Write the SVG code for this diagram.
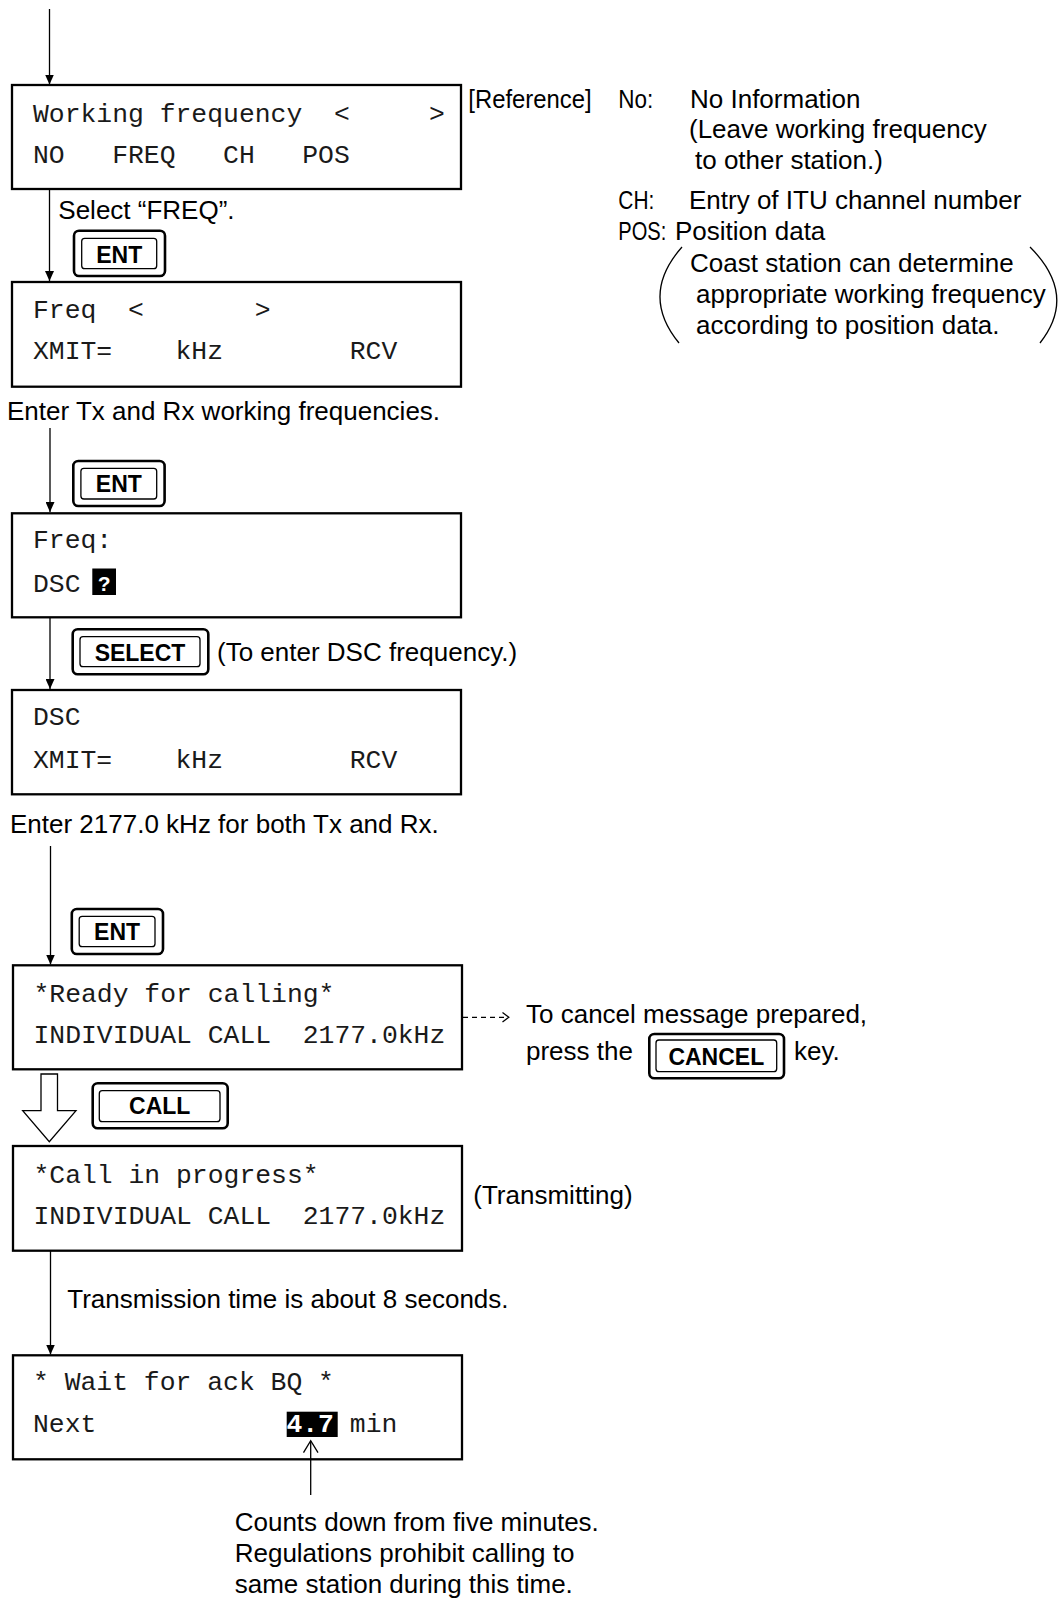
<svg xmlns="http://www.w3.org/2000/svg" width="1064" height="1598" viewBox="0 0 1064 1598">
  <style>
    .screen { fill: none; stroke: #000; stroke-width: 2.3; }
    .mono { font-family: "Liberation Mono", "Courier New", monospace; font-size: 26.4px; fill: #1a1a1a; white-space: pre; }
    .sans { font-family: "Liberation Sans", Arial, sans-serif; font-size: 26px; fill: #000; white-space: pre; }
    .key-outer { fill: #fff; stroke: #000; stroke-width: 2.6; }
    .key-inner { fill: none; stroke: #000; stroke-width: 1.3; }
    .key-label { font-family: "Liberation Sans", Arial, sans-serif; font-weight: bold; font-size: 23px; fill: #000; text-anchor: middle; }
    .flow { fill: none; stroke: #000; stroke-width: 1.3; }
    .thin { fill: none; stroke: #000; stroke-width: 1.3; }
  </style>
  <defs>
    <marker id="arrow" markerWidth="10" markerHeight="9" refX="10" refY="4.5" orient="auto" markerUnits="userSpaceOnUse">
      <path d="M0,0 L10,4.5 L0,9 z" fill="#000"/>
    </marker>
  </defs>

  <rect width="1064" height="1598" fill="#fff"/>

  <!-- screen: working frequency -->
  <g id="screen-working-frequency">
    <rect class="screen" x="12" y="85" width="449" height="104"/>
    <text class="mono" x="33" y="121.7">Working frequency  &lt;     &gt;</text>
    <text class="mono" x="33" y="163.3">NO   FREQ   CH   POS</text>
  </g>

  <g id="note-select-freq">
    <text class="sans" x="58.3" y="219">Select “FREQ”.</text>
  </g>

  <g id="key-ent-1">
    <rect class="key-outer" x="74" y="230.7" width="91" height="45.3" rx="5"/>
    <rect class="key-inner" x="81.7" y="238.3" width="75" height="30.4" rx="3"/>
    <text class="key-label" x="119.2" y="262.5">ENT</text>
  </g>

  <!-- screen: frequency entry -->
  <g id="screen-freq">
    <rect class="screen" x="12" y="282" width="449" height="104.7"/>
    <text class="mono" x="33" y="318">Freq  &lt;       &gt;</text>
    <text class="mono" x="33" y="359.3">XMIT=    kHz        RCV</text>
  </g>

  <g id="note-enter-tx-rx">
    <text class="sans" x="7" y="420">Enter Tx and Rx working frequencies.</text>
  </g>

  <g id="key-ent-2">
    <rect class="key-outer" x="73.3" y="461" width="91.3" height="45" rx="5"/>
    <rect class="key-inner" x="80.9" y="468.3" width="75.8" height="30.7" rx="3"/>
    <text class="key-label" x="118.8" y="491.7">ENT</text>
  </g>

  <!-- screen: DSC query -->
  <g id="screen-freq-dsc">
    <rect class="screen" x="12" y="513.3" width="449" height="104"/>
    <text class="mono" x="33" y="547.7">Freq:</text>
    <text class="mono" x="33" y="591.7">DSC</text>
    <rect x="92.3" y="568.5" width="23.7" height="26.5" fill="#000"/>
    <text x="104.2" y="590.5" font-family="Liberation Sans, Arial, sans-serif" font-weight="bold" font-size="21" fill="#fff" text-anchor="middle">?</text>
  </g>

  <g id="key-select">
    <rect class="key-outer" x="72.7" y="629.3" width="135.6" height="45" rx="5"/>
    <rect class="key-inner" x="80" y="636.7" width="120" height="30" rx="3"/>
    <text class="key-label" x="140" y="661">SELECT</text>
  </g>

  <g id="note-dsc-frequency">
    <text class="sans" x="217" y="661">(To enter DSC frequency.)</text>
  </g>

  <!-- screen: DSC frequency entry -->
  <g id="screen-dsc">
    <rect class="screen" x="12" y="690" width="449" height="104.3"/>
    <text class="mono" x="33" y="725">DSC</text>
    <text class="mono" x="33" y="768.3">XMIT=    kHz        RCV</text>
  </g>

  <g id="note-enter-2177">
    <text class="sans" x="10" y="833">Enter 2177.0 kHz for both Tx and Rx.</text>
  </g>

  <g id="key-ent-3">
    <rect class="key-outer" x="71.8" y="909" width="91.2" height="45" rx="5"/>
    <rect class="key-inner" x="79.2" y="916.3" width="75.8" height="30.4" rx="3"/>
    <text class="key-label" x="117.1" y="940">ENT</text>
  </g>

  <!-- screen: ready for calling -->
  <g id="screen-ready">
    <rect class="screen" x="13" y="965.3" width="449" height="104"/>
    <text class="mono" x="33.5" y="1001.7">*Ready for calling*</text>
    <text class="mono" x="33.5" y="1042.7">INDIVIDUAL CALL  2177.0kHz</text>
  </g>

  <g id="note-cancel">
    <text class="sans" x="526" y="1023.3">To cancel message prepared,</text>
    <text class="sans" x="526" y="1059.5">press the</text>
    <text class="sans" x="794" y="1059.5">key.</text>
  </g>

  <g id="key-cancel">
    <rect class="key-outer" x="649.3" y="1034" width="134.7" height="44.3" rx="5"/>
    <rect class="key-inner" x="656" y="1040" width="120.7" height="31.7" rx="3"/>
    <text class="key-label" x="716.3" y="1065">CANCEL</text>
  </g>

  <g id="key-call">
    <rect class="key-outer" x="92.7" y="1083.3" width="135" height="45" rx="5"/>
    <rect class="key-inner" x="99.3" y="1090.7" width="120.7" height="31" rx="3"/>
    <text class="key-label" x="159.7" y="1114">CALL</text>
  </g>

  <!-- screen: call in progress -->
  <g id="screen-call-in-progress">
    <rect class="screen" x="13" y="1146" width="449" height="104.7"/>
    <text class="mono" x="33.5" y="1182.7">*Call in progress*</text>
    <text class="mono" x="33.5" y="1224">INDIVIDUAL CALL  2177.0kHz</text>
  </g>

  <g id="note-transmitting">
    <text class="sans" x="473.3" y="1204">(Transmitting)</text>
  </g>

  <g id="note-transmission-time">
    <text class="sans" x="67.3" y="1308.3">Transmission time is about 8 seconds.</text>
  </g>

  <!-- screen: waiting for acknowledgement -->
  <g id="screen-wait-ack">
    <rect class="screen" x="13" y="1355.3" width="449" height="104"/>
    <text class="mono" x="33" y="1390">* Wait for ack BQ *</text>
    <text class="mono" x="33" y="1432.3">Next</text>
    <rect x="286.7" y="1411.7" width="51" height="25.3" fill="#000"/>
    <text class="mono" x="286.4" y="1432.3" font-weight="bold" style="fill:#fff">4.7</text>
    <text class="mono" x="349.8" y="1432.3">min</text>
  </g>

  <g id="note-countdown">
    <text class="sans" x="234.7" y="1531">Counts down from five minutes.</text>
    <text class="sans" x="234.7" y="1562">Regulations prohibit calling to</text>
    <text class="sans" x="234.7" y="1593">same station during this time.</text>
  </g>

  <!-- reference legend for the working-frequency options -->
  <g id="note-reference">
    <text class="sans" x="468.3" y="107.5" textLength="123.4" lengthAdjust="spacingAndGlyphs">[Reference]</text>
    <text class="sans" x="618.3" y="107.5" textLength="35" lengthAdjust="spacingAndGlyphs">No:</text>
    <text class="sans" x="690" y="107.5">No Information</text>
    <text class="sans" x="689" y="138">(Leave working frequency</text>
    <text class="sans" x="695" y="168.5">to other station.)</text>
    <text class="sans" x="618.3" y="208.5" textLength="36" lengthAdjust="spacingAndGlyphs">CH:</text>
    <text class="sans" x="689" y="208.5">Entry of ITU channel number</text>
    <text class="sans" x="618.3" y="239.5" textLength="48" lengthAdjust="spacingAndGlyphs">POS:</text>
    <text class="sans" x="675" y="239.5">Position data</text>
    <path class="thin" d="M682,247 Q639.5,295 679,343"/>
    <path class="thin" d="M1030,247 Q1078,295 1040,343"/>
    <text class="sans" x="690" y="271.5">Coast station can determine</text>
    <text class="sans" x="696" y="302.5">appropriate working frequency</text>
    <text class="sans" x="696" y="333.5">according to position data.</text>
  </g>

  <!-- flow connectors, drawn last so the countdown pointer crosses the screen edge -->
  <g id="connectors">
    <line class="flow" x1="49.5" y1="9" x2="49.5" y2="84.5" marker-end="url(#arrow)"/>
    <line class="flow" x1="49.5" y1="189" x2="49.5" y2="281" marker-end="url(#arrow)"/>
    <line class="flow" x1="50" y1="428" x2="50" y2="512" marker-end="url(#arrow)"/>
    <line class="flow" x1="50" y1="617" x2="50" y2="689" marker-end="url(#arrow)"/>
    <line class="flow" x1="50.5" y1="846" x2="50.5" y2="964.5" marker-end="url(#arrow)"/>
    <line class="flow" x1="50.5" y1="1251" x2="50.5" y2="1354.5" marker-end="url(#arrow)"/>
    <!-- hollow CALL arrow -->
    <path class="thin" d="M41,1074 H57.5 V1110.7 H76 L49.3,1141.7 L22.7,1110.7 H41 Z" fill="#fff"/>
    <!-- dashed pointer to the cancel note -->
    <line class="thin" x1="463" y1="1017.3" x2="506" y2="1017.3" stroke-dasharray="5 4"/>
    <polyline class="thin" points="502.5,1012.5 508.8,1017.3 502.5,1022.1"/>
    <!-- pointer to the countdown value -->
    <line class="thin" x1="310.7" y1="1495" x2="310.7" y2="1441"/>
    <polyline class="thin" points="303.5,1452.7 310.7,1440.7 318,1452.7"/>
  </g>
</svg>
